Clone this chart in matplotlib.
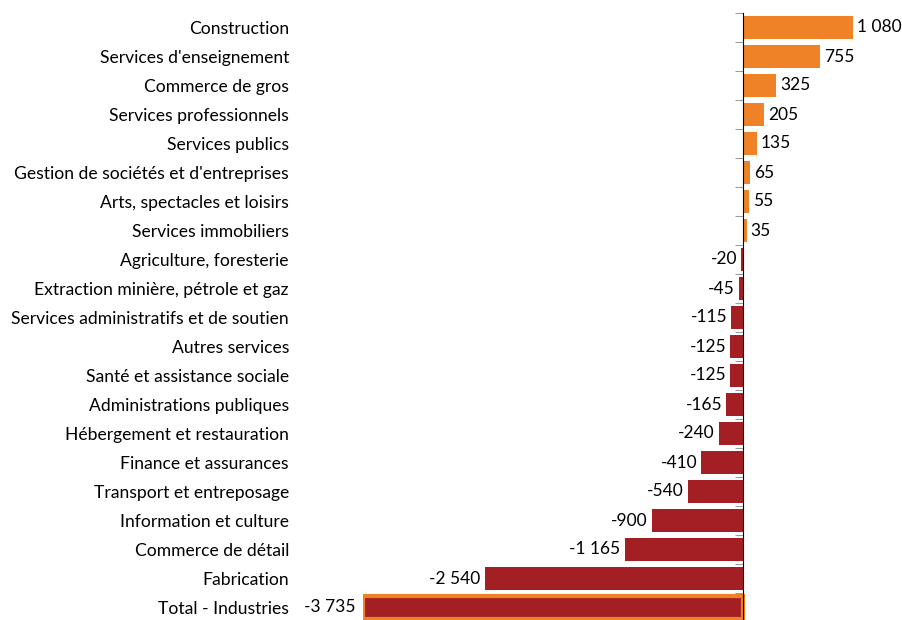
import numpy as np
import matplotlib.pyplot as plt
from matplotlib.ticker import FixedLocator

# Categories (top to bottom) and net change values
categories = [
    "Construction", "Services d'enseignement", "Commerce de gros",
    "Services professionnels", "Services publics",
    "Gestion de sociétés et d'entreprises", "Arts, spectacles et loisirs",
    "Services immobiliers", "Agriculture, foresterie",
    "Extraction minière, pétrole et gaz",
    "Services administratifs et de soutien", "Autres services",
    "Santé et assistance sociale", "Administrations publiques",
    "Hébergement et restauration", "Finance et assurances",
    "Transport et entreposage", "Information et culture",
    "Commerce de détail", "Fabrication", "Total - Industries",
]
values = [1080, 755, 325, 205, 135, 65, 55, 35, -20, -45, -115, -125,
          -125, -165, -240, -410, -540, -900, -1165, -2540, -3735]

orange = "#EF8226"
red = "#A31F24"

plt.rcParams['font.family'] = ['Lato', 'DejaVu Sans']

fig = plt.figure(figsize=(9.02, 6.2), dpi=100)
ax = fig.add_axes([363 / 902, -2 / 620, 490 / 902, 609 / 620])

n = len(categories)
y = np.arange(n)[::-1]
colors = [orange if v > 0 else red for v in values]
bars = ax.barh(y, values, height=0.76, color=colors, edgecolor="none")
# highlight the total bar
bars[-1].set_edgecolor(orange)
bars[-1].set_linewidth(3)

ax.set_xlim(-3735, 1080)
ax.set_ylim(-0.5, n - 0.5)


def fmt(v):
    s = f"{abs(v):,}".replace(",", " ")
    return "-" + s if v < 0 else s


for yi, v in zip(y, values):
    if v > 0:
        ax.text(v + 40, yi, fmt(v), ha="left", va="center", fontsize=12.5)
    else:
        off = 70 if yi == 0 else 40
        ax.text(v - off, yi, fmt(v), ha="right", va="center", fontsize=12.5)

for s in ["top", "right", "bottom"]:
    ax.spines[s].set_visible(False)
ax.spines["left"].set_position(("data", 0))
ax.spines["left"].set_color("black")
ax.xaxis.set_visible(False)

ax.set_yticks(y)
ax.set_yticklabels(categories, fontsize=12.6)
ax.tick_params(axis="y", which="major", length=0, pad=327)
ax.yaxis.set_minor_locator(FixedLocator(np.arange(-0.5, n, 1.0)))
ax.tick_params(axis="y", which="minor", length=6, color="#888888")

fig.savefig("out.png", dpi=100)
